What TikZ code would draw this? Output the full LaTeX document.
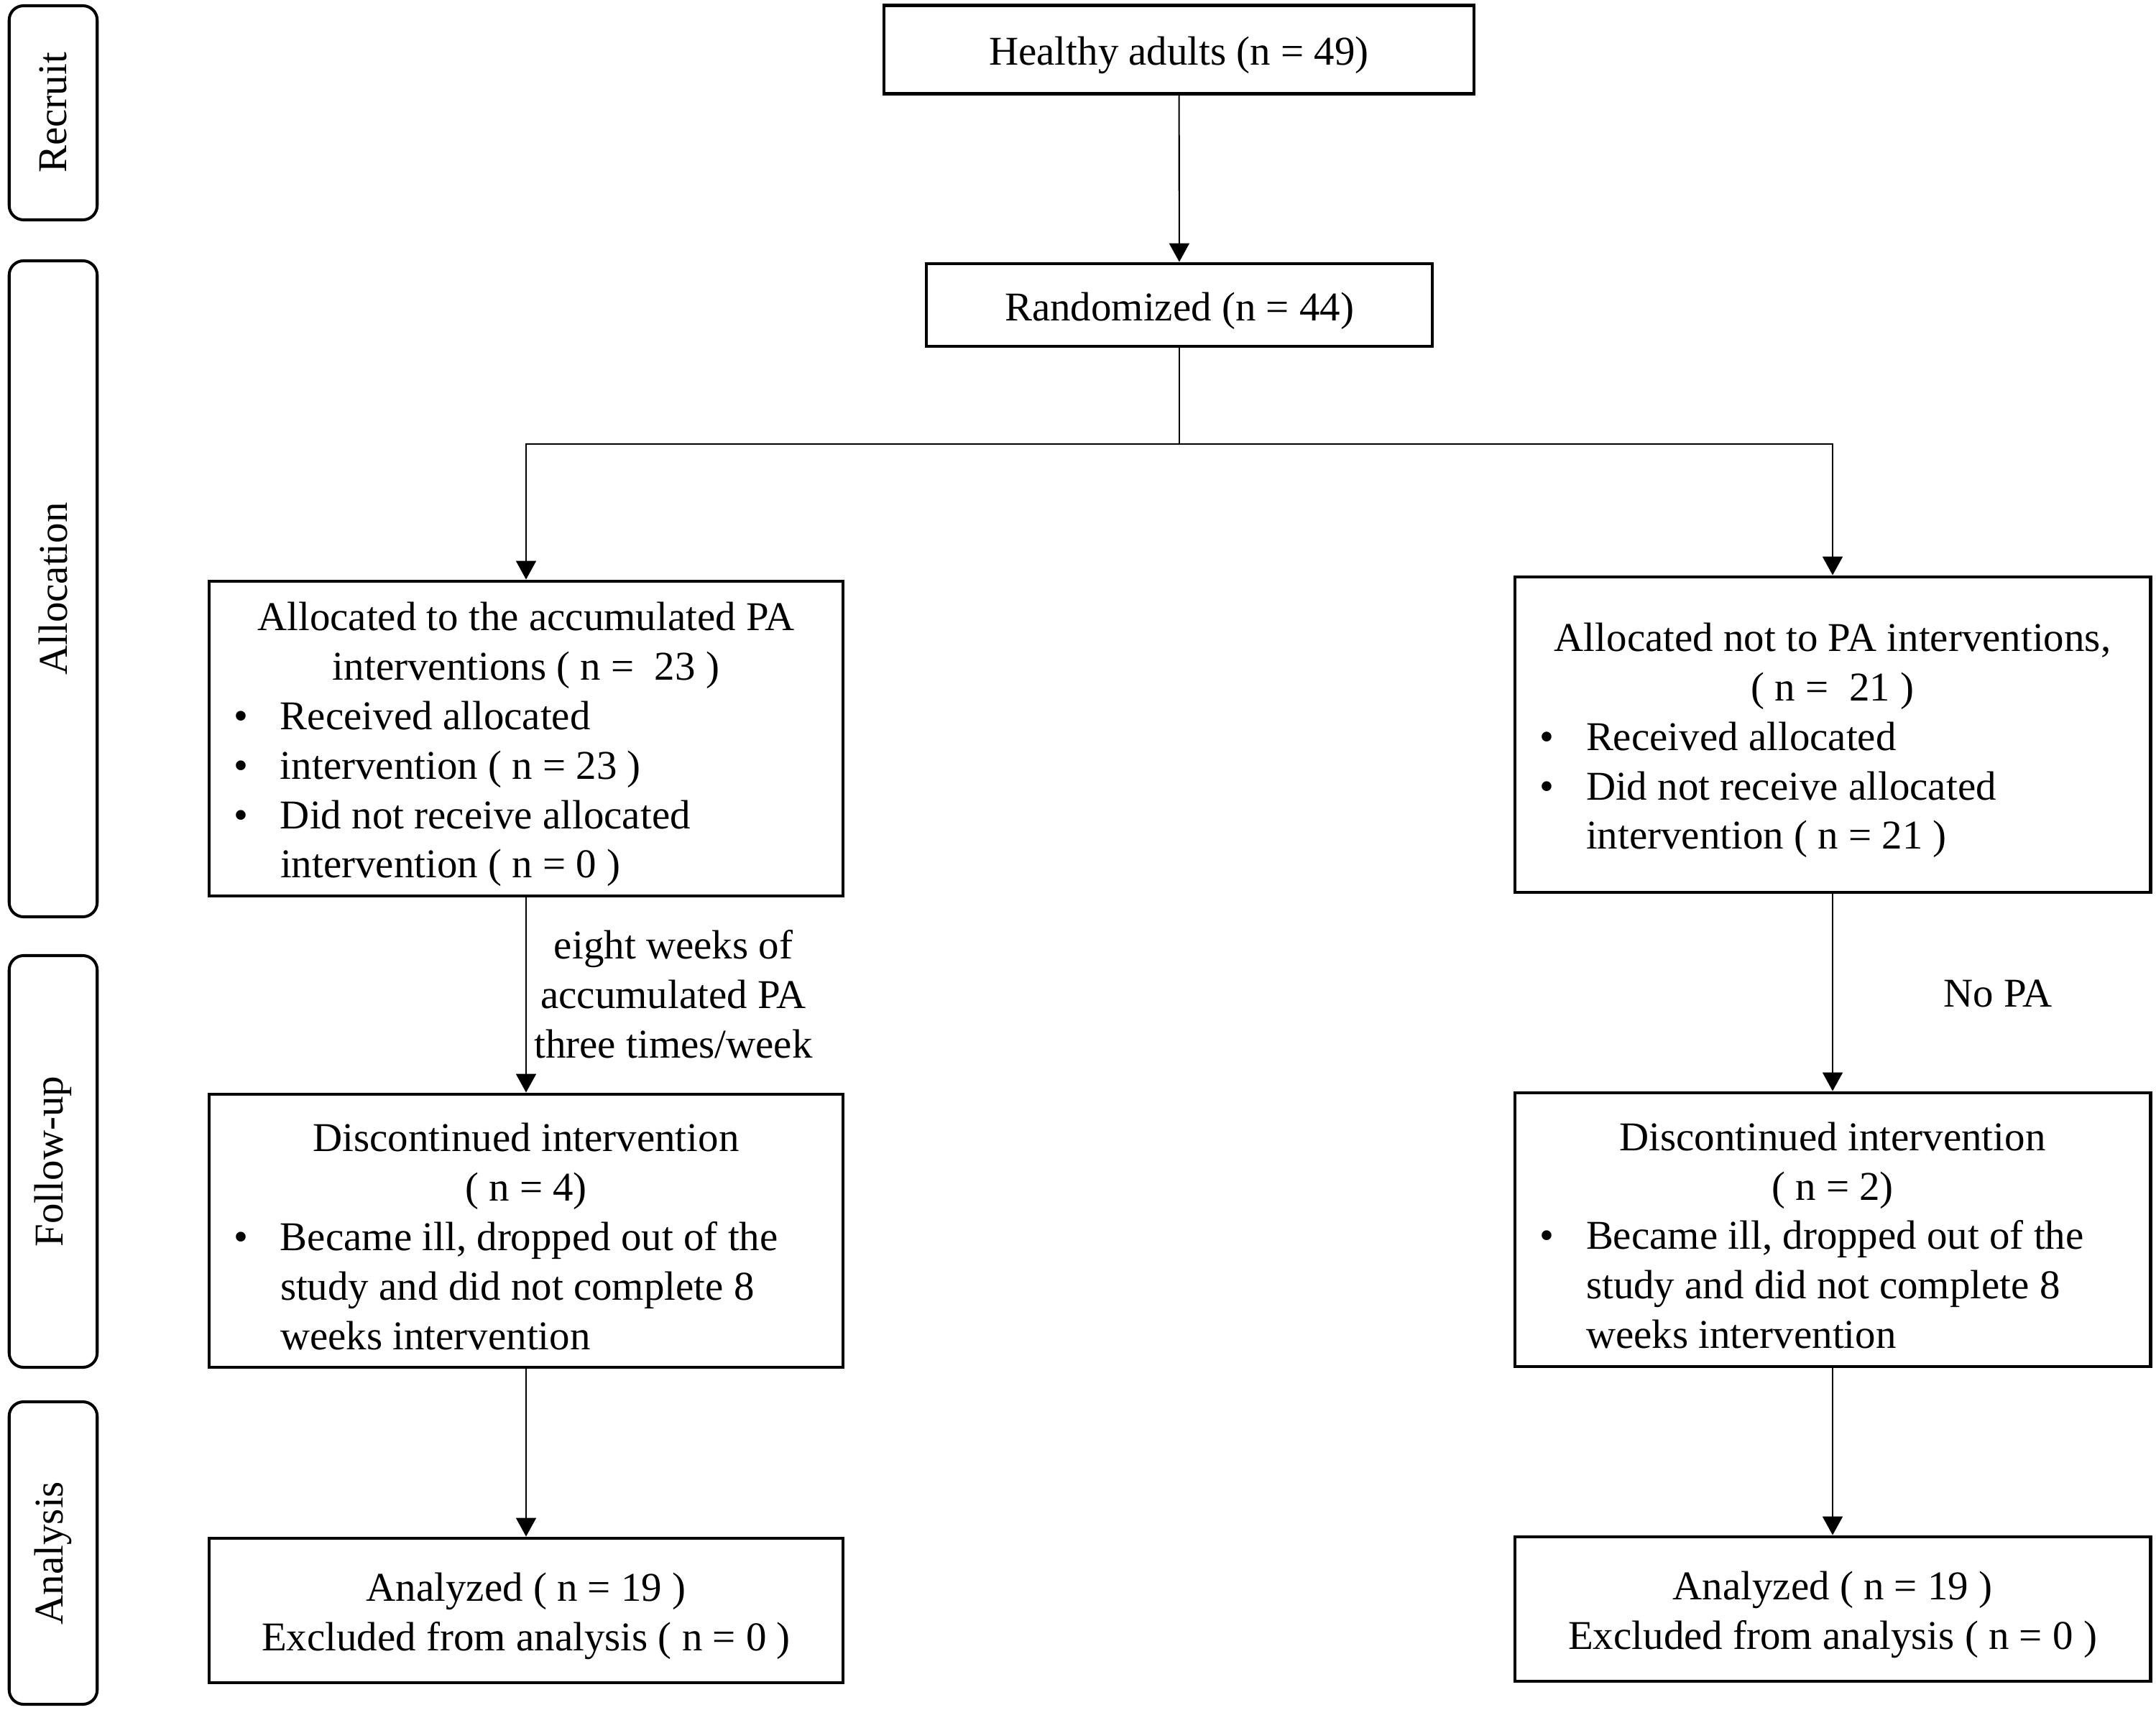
\documentclass[tikz,border=0pt]{standalone}
\usepackage{fontspec}
\setmainfont{Liberation Serif}
\usetikzlibrary{arrows.meta}
\newcommand\dn[1]{\raisebox{-0.08cm}[\height][\depth]{#1}}
\newcommand\cl[1]{\par\hbox to\linewidth{\hfil#1\hfil}}
\newcommand\bl[1]{\par\hbox to\linewidth{\hspace*{0.34cm}\makebox[0.65cm][l]{•}#1\hfil}}
\newcommand\il[1]{\par\hbox to\linewidth{\hspace*{0.99cm}#1\hfil}}
\newcommand\boxtext[2]{\dn{\begin{minipage}{#1}\fontsize{16.2pt}{19.6pt}\selectfont#2\par\end{minipage}}}
\tikzset{
  flowbox/.style={draw, line width=1.4pt, inner sep=0pt, font=\fontsize{16.2pt}{19.6pt}\selectfont},
  sidebox/.style={draw, line width=1.15pt, rounded corners=0.2cm, rotate=90, inner sep=0pt, font=\fontsize{16.2pt}{19.6pt}\selectfont},
  conn/.style={line width=0.6pt},
  arr/.style={conn, -{Triangle[length=0.26cm, width=0.28cm]}},
  lbl/.style={align=center, inner sep=0pt, font=\fontsize{16.2pt}{19.6pt}\selectfont}
}
\begin{document}
\begin{tikzpicture}[x=1cm,y=-1cm]
\useasboundingbox (0,0) rectangle (30,23.79);
% side stage labels
\node[sidebox, minimum width=2.98cm, minimum height=1.225cm] (srec) at (0.74,1.57) {Recruit};
\node[sidebox, minimum width=9.13cm, minimum height=1.225cm] (salloc) at (0.74,8.195) {Allocation};
\node[sidebox, minimum width=5.73cm, minimum height=1.225cm] (sfol) at (0.74,16.165) {Follow-up};
\node[sidebox, minimum width=4.21cm, minimum height=1.225cm] (sana) at (0.74,21.615) {Analysis};
% main boxes
\node[flowbox, minimum width=8.21cm, minimum height=1.225cm] (h) at (16.405,0.69) {\dn{Healthy adults (n = 49)}};
\node[flowbox, minimum width=7.04cm, minimum height=1.15cm] (r) at (16.41,4.245) {\dn{Randomized (n = 44)}};
\node[flowbox, minimum width=8.82cm, minimum height=4.38cm] (a1) at (7.32,10.28) {\boxtext{8.82cm}{%
  \cl{Allocated to the accumulated PA}%
  \cl{interventions ( n =~ 23 )}%
  \bl{Received allocated}%
  \bl{intervention ( n = 23 )}%
  \bl{Did not receive allocated}%
  \il{intervention ( n = 0 )}}};
\node[flowbox, minimum width=8.84cm, minimum height=4.39cm] (a2) at (25.50,10.225) {\boxtext{8.84cm}{%
  \cl{Allocated not to PA interventions,}%
  \cl{( n =~ 21 )}%
  \bl{Received allocated}%
  \bl{Did not receive allocated}%
  \il{intervention ( n = 21 )}}};
\node[flowbox, minimum width=8.82cm, minimum height=3.80cm] (d1) at (7.32,17.13) {\boxtext{8.82cm}{%
  \cl{Discontinued intervention}%
  \cl{( n = 4)}%
  \bl{Became ill, dropped out of the}%
  \il{study and did not complete 8}%
  \il{weeks intervention}}};
\node[flowbox, minimum width=8.84cm, minimum height=3.81cm] (d2) at (25.50,17.115) {\boxtext{8.84cm}{%
  \cl{Discontinued intervention}%
  \cl{( n = 2)}%
  \bl{Became ill, dropped out of the}%
  \il{study and did not complete 8}%
  \il{weeks intervention}}};
\node[flowbox, minimum width=8.82cm, minimum height=2.01cm] (n1) at (7.32,22.415) {\boxtext{8.82cm}{%
  \cl{Analyzed ( n = 19 )}%
  \cl{Excluded from analysis ( n = 0 )}}};
\node[flowbox, minimum width=8.84cm, minimum height=2.01cm] (n2) at (25.50,22.395) {\boxtext{8.84cm}{%
  \cl{Analyzed ( n = 19 )}%
  \cl{Excluded from analysis ( n = 0 )}}};
% labels
\node[lbl] (l1) at (9.37,13.84) {eight weeks of\\accumulated PA\\three times/week};
\node[lbl] (l2) at (27.80,13.83) {No PA};
% connectors
\coordinate (split) at (16.41,6.18);
\draw[arr] (h) -- (r);
\draw[conn] (r.south) -- (split);
\draw[arr] (split) -| (a1.north);
\draw[arr] (split) -| (a2.north);
\draw[arr] (a1) -- (d1);
\draw[arr] (a2) -- (d2);
\draw[arr] (d1) -- (n1);
\draw[arr] (d2) -- (n2);
\end{tikzpicture}
\end{document}
